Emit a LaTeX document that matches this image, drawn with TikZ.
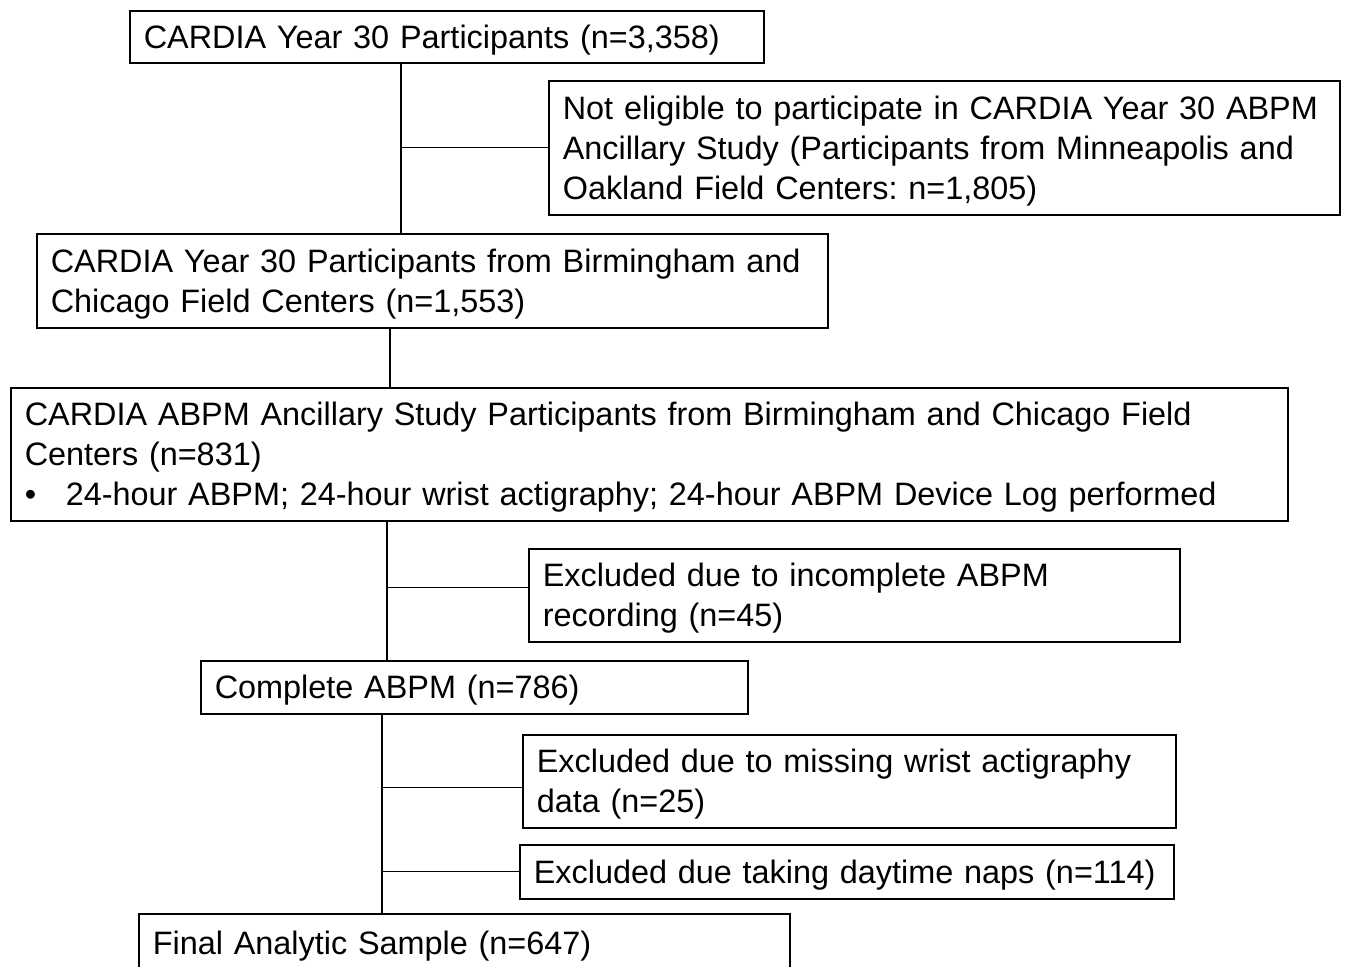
\documentclass[tikz,border=0pt]{standalone}
\usepackage{fontspec}
\setmainfont{Liberation Sans}
\frenchspacing
\tikzset{
  stage/.style={draw, line width=1.2pt, anchor=north west, align=left,
    inner xsep=10.5pt, inner ysep=0pt,
    font=\fontsize{24.3}{30}\selectfont\frenchspacing,
    execute at begin node={\rule{0pt}{22pt}}},
  link/.style={line width=0.8pt}
}
\begin{document}
\begin{tikzpicture}[x=0.75pt,y=-0.75pt]
            \clip (0,0) rectangle (1346,967);
            \node[stage, text width=454.5pt, minimum height=39pt] (year30) at (129,10) {CARDIA Year 30 Participants (n=3,358)};
            \node[stage, text width=572.25pt, minimum height=100.5pt] (inelig) at (548,80) {Not eligible to participate in CARDIA Year 30 ABPM\\Ancillary Study (Participants from Minneapolis and\\Oakland Field Centers: n=1,805)};
            \node[stage, text width=572.25pt, minimum height=70.5pt] (bhamchi) at (36,233) {CARDIA Year 30 Participants from Birmingham and\\Chicago Field Centers (n=1,553)};
            \node[stage, text width=936.75pt, minimum height=99.75pt] (abpm) at (10,387) {CARDIA ABPM Ancillary Study Participants from Birmingham and Chicago Field\\Centers (n=831)\\\makebox[30.75pt][l]{\textbullet}24-hour ABPM; 24-hour wrist actigraphy; 24-hour ABPM Device Log performed};
            \node[stage, text width=467.25pt, minimum height=69.75pt] (exinc) at (528,548) {Excluded due to incomplete ABPM\\recording (n=45)};
            \node[stage, text width=389.25pt, minimum height=39.75pt] (complete) at (200,660) {Complete ABPM (n=786)};
            \node[stage, text width=468.75pt, minimum height=69.75pt] (exwrist) at (522,734) {Excluded due to missing wrist actigraphy\\data (n=25)};
            \node[stage, text width=469.5pt, minimum height=40.5pt] (exnaps) at (519,844) {Excluded due taking daytime naps (n=114)};
            \node[stage, text width=467.25pt, minimum height=43.5pt] (final) at (138,913) {Final Analytic Sample (n=647)};
            % spines
            \coordinate (s1) at (401,0);
            \coordinate (s2) at (390,0);
            \coordinate (s3) at (387,0);
            \coordinate (s4) at (382,0);
            \draw[link] (year30.south -| s1) -- (bhamchi.north -| s1);
            \draw[link] (inelig.west) -- (inelig.west -| s1);
            \draw[link] (bhamchi.south -| s2) -- (abpm.north -| s2);
            \draw[link] (abpm.south -| s3) -- (complete.north -| s3);
            \draw[link] ([yshift=5.6pt]exinc.west) -- ([yshift=5.6pt]exinc.west -| s3);
            \draw[link] (complete.south -| s4) -- (final.north -| s4);
            \draw[link] ([yshift=-4.9pt]exwrist.west) -- ([yshift=-4.9pt]exwrist.west -| s4);
            \draw[link] (exnaps.west) -- (exnaps.west -| s4);
        \end{tikzpicture}
\end{document}
